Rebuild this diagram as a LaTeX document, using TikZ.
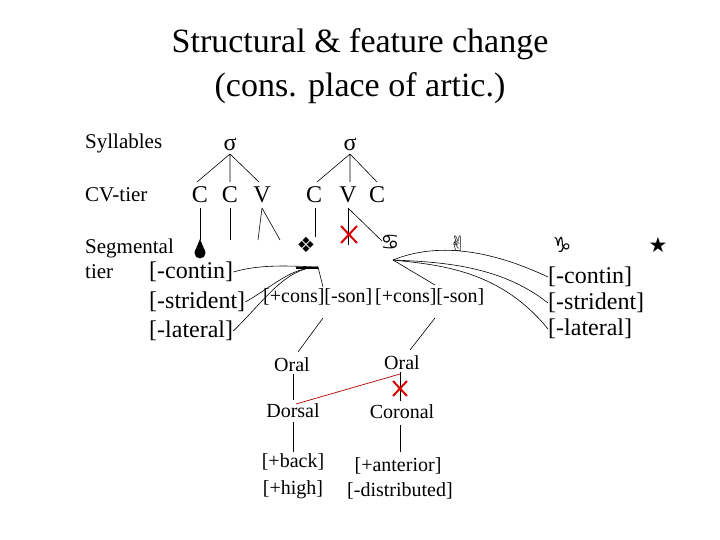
\documentclass[tikz,border=0pt]{standalone}
\usepackage{fontspec}
\setmainfont{Liberation Serif}
\newfontfamily\sym{DejaVu Sans}
\begin{document}
\begin{tikzpicture}[x=1pt,y=-1pt,
  t/.style={inner sep=0pt,font=\fontsize{21}{24}\selectfont},
  f/.style={inner sep=0pt,font=\fontsize{24}{26}\selectfont},
  s/.style={inner sep=0pt,font=\fontsize{20}{22}\selectfont},
  g/.style={inner sep=0pt,font=\sym\fontsize{21}{22}\selectfont},
  ln/.style={line width=0.6pt},
  rx/.style={red!85!black,line width=2pt}]
\useasboundingbox (0,0) rectangle (720,540);
\node[inner sep=0pt,font=\fontsize{34}{36}\selectfont] (t1) at (360,44) {Structural \& feature change};
\node[inner sep=0pt,font=\fontsize{34}{36}\selectfont] (t2) at (360,88) {(cons. place of artic.)};
\node[t,anchor=west] (syl) at (85,143) {Syllables};
\node[t,anchor=west] (cv) at (85,195) {CV-tier};
\node[t,anchor=west] (seg) at (85,248) {Segmental};
\node[t,anchor=west] (tier) at (85,272) {tier};
\node[f] (s1) at (230,144) {σ};
\node[f] (s2) at (350,144) {σ};
\node[f] (c1) at (200,195) {C};
\node[f] (c2) at (230,195) {C};
\node[f] (v1) at (262,195) {V};
\node[f] (c3) at (314,195) {C};
\node[f] (v2) at (348,195) {V};
\node[f] (c4) at (377,195) {C};
\draw[ln] (230,154) -- (197,182) (230,154) -- (230,182) (230,154) -- (259,182);
\draw[ln] (350,154) -- (317,182) (350,154) -- (350,182) (350,154) -- (377,182);
% segments
\node (drop) at (200,250) {};
\fill (200,253) circle[radius=5.5];
\fill (200,239) -- (194.6,252) -- (205.4,252) -- cycle;
\node[g] (dia) at (306,245) {❖};
\node[g] (can) at (390,242) {♋};
\node[g] (hand) at (458,244) {✌};
\node[g] (cap) at (562,245) {♑};
\node[g] (star) at (658,245) {★};
\draw[ln] (200,208) -- (200,240);
\draw[ln] (230,208) -- (230,240);
\draw[ln] (262,208) -- (258,240) (262,208) -- (280,240);
\draw[ln] (315,208) -- (315,237);
\draw[ln] (348,208) -- (348,245);
\draw[ln] (348,208) -- (382,241);
\draw[rx] (341,226) -- (357,243) (357,226) -- (341,243);
% features left
\node[f,anchor=west] (lc) at (149,272) {[-contin]};
\node[f,anchor=west] (ls) at (149,302) {[-strident]};
\node[f,anchor=west] (ll) at (149,331) {[-lateral]};
\coordinate (hub) at (318,267);
\draw[line width=1.6pt] (296,268) -- (318,268);
\draw[ln] (lc.east) .. controls (260,264) and (290,266) .. (hub);
\draw[ln] (ls.east) .. controls (275,285) and (290,268) .. (hub);
\draw[ln] (ll.east) .. controls (265,300) and (285,268) .. (hub);
\node[s,anchor=west] (cs1) at (263,297) {[+cons][-son]};
\node[s,anchor=west] (cs2) at (375,297) {[+cons][-son]};
\draw[ln] (hub) -- (323,287);
% right
\coordinate (hub2) at (393,260);
\node[f,anchor=west] (rc) at (548,277) {[-contin]};
\node[f,anchor=west] (rs) at (548,303) {[-strident]};
\node[f,anchor=west] (rl) at (548,329) {[-lateral]};
\draw[ln] (hub2) -- (435,285);
\draw[ln] (hub2) .. controls (430,245) and (480,245) .. (rc.west);
\draw[ln] (hub2) .. controls (440,262) and (500,265) .. (rs.west);
\draw[ln] (hub2) .. controls (440,265) and (500,270) .. (rl.west);
% lower
\node[s] (o1) at (292,365) {Oral};
\node[s] (o2) at (402,363) {Oral};
\node[s] (dor) at (293,411) {Dorsal};
\node[s] (cor) at (402,412) {Coronal};
\node[s] (bk) at (293,462) {[+back]};
\node[s] (hi) at (293,490) {[+high]};
\node[s] (an) at (398,466) {[+anterior]};
\node[s] (di) at (400,491) {[-distributed]};
\draw[ln] (323,318) -- (298,352);
\draw[ln] (435,318) -- (410,350);
\draw[ln] (293,374) -- (293,400);
\draw[ln] (400,372) -- (400,401);
\draw[ln] (293,422) -- (293,452);
\draw[ln] (400,425) -- (400,452);
\draw[red!70!black,line width=0.7pt] (296,404) -- (400,374);
\draw[rx] (393,381) -- (407,396) (407,381) -- (393,396);
\end{tikzpicture}
\end{document}
